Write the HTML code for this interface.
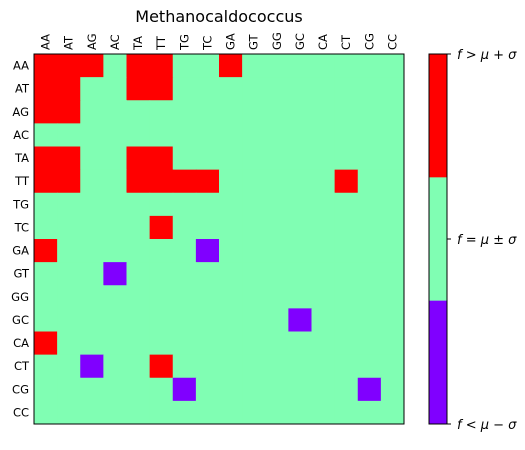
<!DOCTYPE html>
<html><head><meta charset="utf-8">
<style>
body{margin:0;background:#fff;}
svg text{font-family:"DejaVu Sans","Liberation Sans",sans-serif;}
</style></head>
<body>
<svg id="chart" width="525" height="445" xmlns="http://www.w3.org/2000/svg">
<text x="219" y="22" font-size="16" text-anchor="middle">Methanocaldococcus</text>
<g id="cells"></g>
<g id="axes"></g>
<g id="cbar"></g>
</svg>
<script>
const dinucs = ["AA","AT","AG","AC","TA","TT","TG","TC","GA","GT","GG","GC","CA","CT","CG","CC"];
// 1 = f > mu+sigma, 0 = within, -1 = f < mu-sigma
const rowAA = [1,1,1,0,1,1,0,0,1,0,0,0,0,0,0,0];
const rowAT = [1,1,0,0,1,1,0,0,0,0,0,0,0,0,0,0];
const rowAG = [1,1,0,0,0,0,0,0,0,0,0,0,0,0,0,0];
const rowAC = [0,0,0,0,0,0,0,0,0,0,0,0,0,0,0,0];
const rowTA = [1,1,0,0,1,1,0,0,0,0,0,0,0,0,0,0];
const rowTT = [1,1,0,0,1,1,1,1,0,0,0,0,0,1,0,0];
const rowTG = [0,0,0,0,0,0,0,0,0,0,0,0,0,0,0,0];
const rowTC = [0,0,0,0,0,1,0,0,0,0,0,0,0,0,0,0];
const rowGA = [1,0,0,0,0,0,0,-1,0,0,0,0,0,0,0,0];
const rowGT = [0,0,0,-1,0,0,0,0,0,0,0,0,0,0,0,0];
const rowGG = [0,0,0,0,0,0,0,0,0,0,0,0,0,0,0,0];
const rowGC = [0,0,0,0,0,0,0,0,0,0,0,-1,0,0,0,0];
const rowCA = [1,0,0,0,0,0,0,0,0,0,0,0,0,0,0,0];
const rowCT = [0,0,-1,0,0,1,0,0,0,0,0,0,0,0,0,0];
const rowCG = [0,0,0,0,0,0,-1,0,0,0,0,0,0,0,-1,0];
const rowCC = [0,0,0,0,0,0,0,0,0,0,0,0,0,0,0,0];
const matrix = [rowAA,rowAT,rowAG,rowAC,rowTA,rowTT,rowTG,rowTC,rowGA,rowGT,rowGG,rowGC,rowCA,rowCT,rowCG,rowCC];
const cbarLabels = ["f > μ + σ","f = μ ± σ","f < μ − σ"];

const NS="http://www.w3.org/2000/svg";
const X0=34,Y0=54,W=370,H=370,n=dinucs.length,cw=W/n,ch=H/n;
const colX=i=>X0+i*cw, rowY=j=>Y0+j*ch;
const color=v=>v>0?"#ff0000":(v<0?"#8000ff":"#80feb3");
function mk(tag,attrs,parent){const e=document.createElementNS(NS,tag);for(const k in attrs)e.setAttribute(k,attrs[k]);parent.appendChild(e);return e;}
const cells=document.getElementById("cells");
matrix.forEach((row,j)=>row.forEach((v,i)=>{
  const r=mk("rect",{x:colX(i),y:rowY(j),width:cw+0.5,height:ch+0.5,fill:color(v)},cells);
  
  
}));
const axes=document.getElementById("axes");
const frame=mk("rect",{x:X0,y:Y0,width:W,height:H,fill:"none",stroke:"#000","stroke-width":1},axes);


dinucs.forEach((d,i)=>{
  const cx=colX(i)+cw/2;
  const t=mk("text",{x:0,y:0,"font-size":11.5,transform:`translate(${cx+4},${Y0-4}) rotate(-90)`},axes);
  t.textContent=d;
  
  
  const cy=rowY(i)+ch/2;
  const t2=mk("text",{x:X0-5,y:cy+4,"font-size":11.5,"text-anchor":"end"},axes);
  t2.textContent=d;
  
  
});
const cb=document.getElementById("cbar");
const CX=429,CW=18,cols=["#ff0000","#80feb3","#8000ff"];
cols.forEach((c,k)=>{
  const r=mk("rect",{x:CX,y:Y0+k*H/3,width:CW,height:H/3+0.5,fill:c},cb);
  
  
});
const cf=mk("rect",{x:CX,y:Y0,width:CW,height:H,fill:"none",stroke:"#000"},cb);


cbarLabels.forEach((l,k)=>{
  const y=Y0+k*H/2;
  mk("line",{x1:CX+CW,x2:CX+CW+4,y1:y,y2:y,stroke:"#000"},cb);
  const t=mk("text",{x:CX+CW+10,y:y+5,"font-size":13,"font-style":"italic"},cb);
  t.textContent=l;
  
  
});
</script>
</body></html>
